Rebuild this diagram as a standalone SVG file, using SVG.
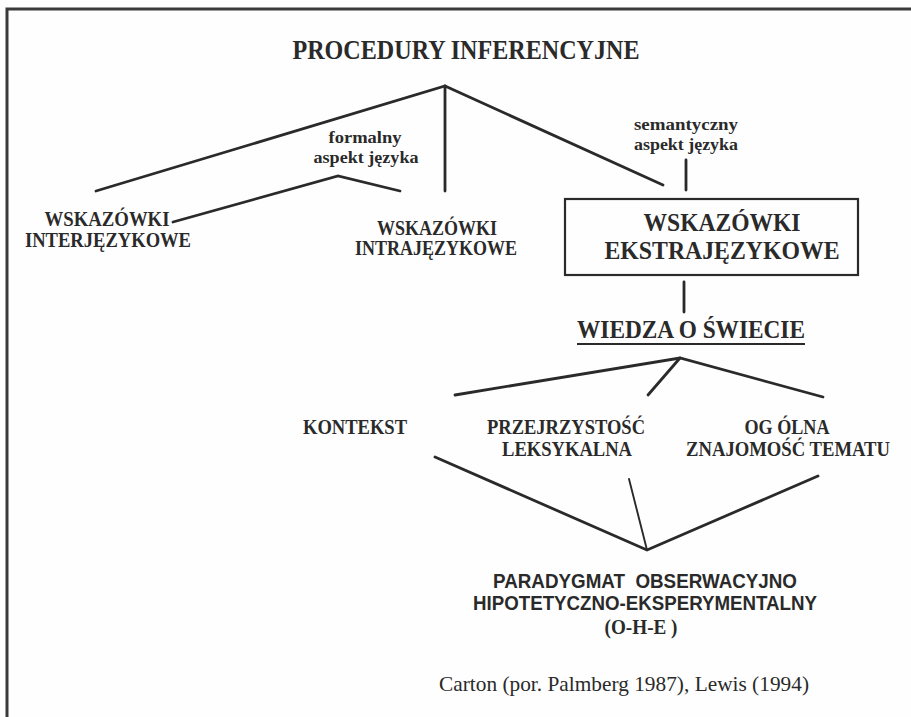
<svg xmlns="http://www.w3.org/2000/svg" width="911" height="717" viewBox="0 0 911 717">
<style>
.bg{fill:#fefefe}
.frame{fill:none;stroke:#3a3a3a;stroke-width:3}
.ln{stroke:#2a2a2a;stroke-width:2.8;fill:none;stroke-linecap:round}
.thin{stroke:#2a2a2a;stroke-width:1.9;fill:none;stroke-linecap:round}
.box{fill:none;stroke:#2a2a2a;stroke-width:2.2}
text{fill:#2a2a2a;text-anchor:middle;font-family:"Liberation Serif","Times New Roman",serif;font-weight:bold}
.s{font-size:16px}
.m{font-size:20px}
.l{font-size:26px}
.sans{font-family:"Liberation Sans",Arial,sans-serif;font-size:19.5px;white-space:pre}
.reg{font-weight:normal;font-size:21px}
</style>
<rect class="bg" x="0" y="0" width="911" height="717"/>
<path class="frame" d="M7,717 L7,9 L911,9"/>

<g id="connectors">
  <path class="ln" d="M96,191 L445,86 L663,185"/>
  <path class="ln" d="M445,86 L445,191"/>
  <path class="ln" d="M173,222 L338,176 L400,191"/>
  <path class="ln" d="M686,160 L686,190"/>
  <path class="ln" d="M684,282 L684,312"/>
  <path class="ln" d="M455,395 L680,358 L823,397"/>
  <path class="ln" d="M680,358 L648,395"/>
  <path class="ln" d="M435,457 L647,550 L818,476"/>
  <path class="thin" d="M629,479 L647,550"/>
</g>

<g id="title"><text x="466" y="59" style="font-size:28px" textLength="347" lengthAdjust="spacingAndGlyphs">PROCEDURY INFERENCYJNE</text></g>
<g id="formalny">
  <text class="s" x="365" y="143" textLength="73" lengthAdjust="spacingAndGlyphs">formalny</text>
  <text class="s" x="366" y="163" textLength="105" lengthAdjust="spacingAndGlyphs">aspekt języka</text>
</g>
<g id="semantyczny">
  <text class="s" x="686" y="130" textLength="104" lengthAdjust="spacingAndGlyphs">semantyczny</text>
  <text class="s" x="686" y="150" textLength="104" lengthAdjust="spacingAndGlyphs">aspekt języka</text>
</g>
<g id="inter">
  <text class="m" x="107" y="226" textLength="125" lengthAdjust="spacingAndGlyphs">WSKAZÓWKI</text>
  <text class="m" x="108" y="247" textLength="166" lengthAdjust="spacingAndGlyphs">INTERJĘZYKOWE</text>
</g>
<g id="intra">
  <text class="m" x="437" y="235" textLength="120" lengthAdjust="spacingAndGlyphs">WSKAZÓWKI</text>
  <text class="m" x="436" y="255" textLength="162" lengthAdjust="spacingAndGlyphs">INTRAJĘZYKOWE</text>
</g>
<g id="ekstra">
  <rect class="box" x="565" y="199" width="293" height="76"/>
  <text class="l" x="722" y="231" textLength="157" lengthAdjust="spacingAndGlyphs">WSKAZÓWKI</text>
  <text class="l" x="722" y="259" textLength="235" lengthAdjust="spacingAndGlyphs">EKSTRAJĘZYKOWE</text>
</g>
<g id="wiedza">
  <text class="l" x="691" y="338" style="font-size:25px" textLength="228" lengthAdjust="spacingAndGlyphs">WIEDZA O ŚWIECIE</text>
  <line x1="577" y1="344" x2="805" y2="344" stroke="#2a2a2a" stroke-width="2"/>
</g>
<g id="kontekst"><text class="m" x="355" y="434" textLength="104" lengthAdjust="spacingAndGlyphs">KONTEKST</text></g>
<g id="przejrzystosc">
  <text class="m" x="566" y="434" textLength="158" lengthAdjust="spacingAndGlyphs">PRZEJRZYSTOŚĆ</text>
  <text class="m" x="567" y="456" textLength="130" lengthAdjust="spacingAndGlyphs">LEKSYKALNA</text>
</g>
<g id="ogolna">
  <text class="m" x="787" y="434" textLength="85" lengthAdjust="spacingAndGlyphs">OG ÓLNA</text>
  <text class="m" x="788" y="456" textLength="204" lengthAdjust="spacingAndGlyphs">ZNAJOMOŚĆ TEMATU</text>
</g>
<g id="paradygmat">
  <text class="sans" x="645" y="588" textLength="304" lengthAdjust="spacingAndGlyphs">PARADYGMAT  OBSERWACYJNO</text>
  <text class="sans" x="645" y="610" textLength="344" lengthAdjust="spacingAndGlyphs">HIPOTETYCZNO-EKSPERYMENTALNY</text>
  <text class="m" x="641" y="634" textLength="73" lengthAdjust="spacingAndGlyphs">(O-H-E )</text>
</g>
<g id="source"><text class="reg" x="624" y="691" textLength="370" lengthAdjust="spacingAndGlyphs">Carton (por. Palmberg 1987), Lewis (1994)</text></g>
</svg>
